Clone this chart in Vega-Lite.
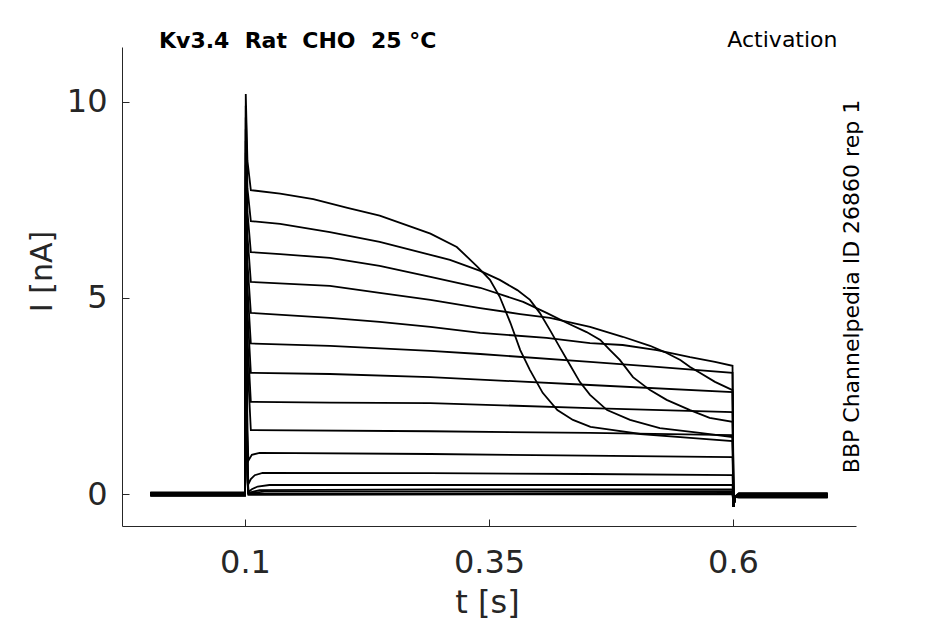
{
"$schema": "https://vega.github.io/schema/vega-lite/v6.json",
"width": 734,
"height": 479,
"autosize": {"type": "none"},
"padding": {"left": 122, "top": 47, "right": 89, "bottom": 98},
"background": "white",
"config": {"view": {"stroke": null}, "font": "DejaVu Sans"},
"title": {"text": "Kv3.4\u00a0\u00a0Rat\u00a0\u00a0CHO\u00a0\u00a025 °C", "anchor": "start", "frame": "group", "dx": 37, "dy": 42, "offset": 0, "baseline": "alphabetic", "fontSize": 22, "fontWeight": "bold", "font": "DejaVu Sans", "color": "#000000"},
"data": {"values": [
{"tr":1,"t":0.003,"I":0.02},{"tr":1,"t":0.1,"I":0.02},{"tr":1,"t":0.1008,"I":10.2},{"tr":1,"t":0.1025,"I":8.5},{"tr":1,"t":0.106,"I":7.75},{"tr":1,"t":0.136,"I":7.66},{"tr":1,"t":0.17,"I":7.52},{"tr":1,"t":0.205,"I":7.3},{"tr":1,"t":0.238,"I":7.1},{"tr":1,"t":0.272,"I":6.8},{"tr":1,"t":0.29,"I":6.64},{"tr":1,"t":0.317,"I":6.3},{"tr":1,"t":0.338,"I":5.8},{"tr":1,"t":0.351,"I":5.46},{"tr":1,"t":0.361,"I":5.03},{"tr":1,"t":0.372,"I":4.36},{"tr":1,"t":0.382,"I":3.67},{"tr":1,"t":0.392,"I":3.16},{"tr":1,"t":0.405,"I":2.58},{"tr":1,"t":0.42,"I":2.14},{"tr":1,"t":0.436,"I":1.89},{"tr":1,"t":0.454,"I":1.71},{"tr":1,"t":0.474,"I":1.64},{"tr":1,"t":0.505,"I":1.53},{"tr":1,"t":0.556,"I":1.43},{"tr":1,"t":0.5995,"I":1.35},{"tr":1,"t":0.6006,"I":-0.33},{"tr":1,"t":0.602,"I":-0.07},{"tr":1,"t":0.606,"I":-0.02},{"tr":1,"t":0.697,"I":-0.02},
{"tr":2,"t":0.003,"I":0},{"tr":2,"t":0.1,"I":0},{"tr":2,"t":0.1008,"I":9.9},{"tr":2,"t":0.1025,"I":7.8},{"tr":2,"t":0.106,"I":6.96},{"tr":2,"t":0.136,"I":6.89},{"tr":2,"t":0.187,"I":6.68},{"tr":2,"t":0.238,"I":6.43},{"tr":2,"t":0.29,"I":6.1},{"tr":2,"t":0.31,"I":5.97},{"tr":2,"t":0.341,"I":5.69},{"tr":2,"t":0.361,"I":5.46},{"tr":2,"t":0.379,"I":5.2},{"tr":2,"t":0.392,"I":4.95},{"tr":2,"t":0.402,"I":4.62},{"tr":2,"t":0.4125,"I":4.18},{"tr":2,"t":0.423,"I":3.72},{"tr":2,"t":0.433,"I":3.29},{"tr":2,"t":0.443,"I":2.86},{"tr":2,"t":0.4535,"I":2.53},{"tr":2,"t":0.471,"I":2.14},{"tr":2,"t":0.4945,"I":1.89},{"tr":2,"t":0.525,"I":1.68},{"tr":2,"t":0.566,"I":1.56},{"tr":2,"t":0.5995,"I":1.45},{"tr":2,"t":0.6006,"I":-0.33},{"tr":2,"t":0.602,"I":-0.07},{"tr":2,"t":0.606,"I":-0.05},{"tr":2,"t":0.697,"I":-0.05},
{"tr":3,"t":0.003,"I":-0.03},{"tr":3,"t":0.1,"I":-0.03},{"tr":3,"t":0.1008,"I":9.6},{"tr":3,"t":0.1025,"I":7.2},{"tr":3,"t":0.106,"I":6.17},{"tr":3,"t":0.136,"I":6.12},{"tr":3,"t":0.187,"I":6.02},{"tr":3,"t":0.238,"I":5.82},{"tr":3,"t":0.29,"I":5.54},{"tr":3,"t":0.341,"I":5.26},{"tr":3,"t":0.385,"I":4.9},{"tr":3,"t":0.409,"I":4.62},{"tr":3,"t":0.43,"I":4.36},{"tr":3,"t":0.45,"I":4.13},{"tr":3,"t":0.464,"I":3.93},{"tr":3,"t":0.474,"I":3.67},{"tr":3,"t":0.484,"I":3.42},{"tr":3,"t":0.4975,"I":2.98},{"tr":3,"t":0.515,"I":2.65},{"tr":3,"t":0.532,"I":2.4},{"tr":3,"t":0.556,"I":2.14},{"tr":3,"t":0.576,"I":1.94},{"tr":3,"t":0.5995,"I":1.84},{"tr":3,"t":0.6006,"I":-0.33},{"tr":3,"t":0.602,"I":-0.07},{"tr":3,"t":0.606,"I":0.01},{"tr":3,"t":0.697,"I":0.01},
{"tr":4,"t":0.003,"I":0.04},{"tr":4,"t":0.1,"I":0.04},{"tr":4,"t":0.1008,"I":9.3},{"tr":4,"t":0.1025,"I":6.6},{"tr":4,"t":0.106,"I":5.41},{"tr":4,"t":0.187,"I":5.31},{"tr":4,"t":0.238,"I":5.13},{"tr":4,"t":0.29,"I":4.95},{"tr":4,"t":0.341,"I":4.74},{"tr":4,"t":0.382,"I":4.59},{"tr":4,"t":0.4125,"I":4.49},{"tr":4,"t":0.4535,"I":4.26},{"tr":4,"t":0.487,"I":4.01},{"tr":4,"t":0.515,"I":3.78},{"tr":4,"t":0.53,"I":3.62},{"tr":4,"t":0.546,"I":3.42},{"tr":4,"t":0.556,"I":3.24},{"tr":4,"t":0.566,"I":3.09},{"tr":4,"t":0.5815,"I":2.86},{"tr":4,"t":0.5995,"I":2.65},{"tr":4,"t":0.6006,"I":-0.33},{"tr":4,"t":0.602,"I":-0.07},{"tr":4,"t":0.606,"I":-0.08},{"tr":4,"t":0.697,"I":-0.08},
{"tr":5,"t":0.003,"I":-0.01},{"tr":5,"t":0.1,"I":-0.01},{"tr":5,"t":0.1008,"I":9.0},{"tr":5,"t":0.1025,"I":5.9},{"tr":5,"t":0.106,"I":4.62},{"tr":5,"t":0.187,"I":4.49},{"tr":5,"t":0.238,"I":4.39},{"tr":5,"t":0.29,"I":4.26},{"tr":5,"t":0.341,"I":4.11},{"tr":5,"t":0.409,"I":3.98},{"tr":5,"t":0.4535,"I":3.85},{"tr":5,"t":0.487,"I":3.8},{"tr":5,"t":0.522,"I":3.67},{"tr":5,"t":0.556,"I":3.49},{"tr":5,"t":0.5815,"I":3.37},{"tr":5,"t":0.5995,"I":3.27},{"tr":5,"t":0.6006,"I":-0.33},{"tr":5,"t":0.602,"I":-0.07},{"tr":5,"t":0.606,"I":-0.04},{"tr":5,"t":0.697,"I":-0.04},
{"tr":6,"t":0.003,"I":0.01},{"tr":6,"t":0.1,"I":0.01},{"tr":6,"t":0.1008,"I":8.7},{"tr":6,"t":0.1025,"I":5.3},{"tr":6,"t":0.106,"I":3.84},{"tr":6,"t":0.187,"I":3.78},{"tr":6,"t":0.29,"I":3.65},{"tr":6,"t":0.341,"I":3.57},{"tr":6,"t":0.4535,"I":3.37},{"tr":6,"t":0.522,"I":3.24},{"tr":6,"t":0.5995,"I":3.09},{"tr":6,"t":0.6006,"I":-0.33},{"tr":6,"t":0.602,"I":-0.07},{"tr":6,"t":0.606,"I":-0.06},{"tr":6,"t":0.697,"I":-0.06},
{"tr":7,"t":0.003,"I":-0.05},{"tr":7,"t":0.1,"I":-0.05},{"tr":7,"t":0.1008,"I":8.4},{"tr":7,"t":0.1025,"I":4.7},{"tr":7,"t":0.106,"I":3.09},{"tr":7,"t":0.187,"I":3.06},{"tr":7,"t":0.29,"I":2.98},{"tr":7,"t":0.4535,"I":2.78},{"tr":7,"t":0.5995,"I":2.6},{"tr":7,"t":0.6006,"I":-0.33},{"tr":7,"t":0.602,"I":-0.07},{"tr":7,"t":0.606,"I":0.02},{"tr":7,"t":0.697,"I":0.02},
{"tr":8,"t":0.003,"I":0.03},{"tr":8,"t":0.1,"I":0.03},{"tr":8,"t":0.1008,"I":8.1},{"tr":8,"t":0.1025,"I":4.0},{"tr":8,"t":0.106,"I":2.35},{"tr":8,"t":0.187,"I":2.33},{"tr":8,"t":0.29,"I":2.32},{"tr":8,"t":0.4535,"I":2.19},{"tr":8,"t":0.5995,"I":2.09},{"tr":8,"t":0.6006,"I":-0.33},{"tr":8,"t":0.602,"I":-0.07},{"tr":8,"t":0.606,"I":-0.09},{"tr":8,"t":0.697,"I":-0.09},
{"tr":9,"t":0.003,"I":-0.02},{"tr":9,"t":0.1,"I":-0.02},{"tr":9,"t":0.1008,"I":7.8},{"tr":9,"t":0.1025,"I":3.4},{"tr":9,"t":0.106,"I":1.63},{"tr":9,"t":0.29,"I":1.6},{"tr":9,"t":0.4535,"I":1.56},{"tr":9,"t":0.5995,"I":1.5},{"tr":9,"t":0.6006,"I":-0.33},{"tr":9,"t":0.602,"I":-0.07},{"tr":9,"t":0.606,"I":-0.03},{"tr":9,"t":0.697,"I":-0.03},
{"tr":10,"t":0.003,"I":0.02},{"tr":10,"t":0.1,"I":0.02},{"tr":10,"t":0.1008,"I":7.5},{"tr":10,"t":0.1025,"I":1.6},{"tr":10,"t":0.1035,"I":0.85},{"tr":10,"t":0.107,"I":1.0},{"tr":10,"t":0.115,"I":1.05},{"tr":10,"t":0.29,"I":1.02},{"tr":10,"t":0.45,"I":0.98},{"tr":10,"t":0.5995,"I":0.94},{"tr":10,"t":0.6006,"I":-0.33},{"tr":10,"t":0.602,"I":-0.07},{"tr":10,"t":0.606,"I":-0.07},{"tr":10,"t":0.697,"I":-0.07},
{"tr":11,"t":0.003,"I":-0.04},{"tr":11,"t":0.1,"I":-0.04},{"tr":11,"t":0.1008,"I":7.2},{"tr":11,"t":0.1025,"I":1.0},{"tr":11,"t":0.1035,"I":0.25},{"tr":11,"t":0.106,"I":0.38},{"tr":11,"t":0.11,"I":0.48},{"tr":11,"t":0.118,"I":0.54},{"tr":11,"t":0.29,"I":0.53},{"tr":11,"t":0.45,"I":0.51},{"tr":11,"t":0.5995,"I":0.48},{"tr":11,"t":0.6006,"I":-0.33},{"tr":11,"t":0.602,"I":-0.07},{"tr":11,"t":0.606,"I":-0.01},{"tr":11,"t":0.697,"I":-0.01},
{"tr":12,"t":0.003,"I":0},{"tr":12,"t":0.1,"I":0},{"tr":12,"t":0.1008,"I":6.9},{"tr":12,"t":0.1025,"I":0.8},{"tr":12,"t":0.1035,"I":0.05},{"tr":12,"t":0.107,"I":0.12},{"tr":12,"t":0.113,"I":0.19},{"tr":12,"t":0.125,"I":0.23},{"tr":12,"t":0.45,"I":0.23},{"tr":12,"t":0.5995,"I":0.23},{"tr":12,"t":0.6006,"I":-0.33},{"tr":12,"t":0.602,"I":-0.07},{"tr":12,"t":0.606,"I":-0.05},{"tr":12,"t":0.697,"I":-0.05},
{"tr":13,"t":0.003,"I":0.03},{"tr":13,"t":0.1,"I":0.03},{"tr":13,"t":0.1008,"I":6.6},{"tr":13,"t":0.1025,"I":0.6},{"tr":13,"t":0.1035,"I":0.03},{"tr":13,"t":0.115,"I":0.1},{"tr":13,"t":0.3,"I":0.12},{"tr":13,"t":0.5995,"I":0.12},{"tr":13,"t":0.6006,"I":-0.33},{"tr":13,"t":0.602,"I":-0.07},{"tr":13,"t":0.606,"I":0},{"tr":13,"t":0.697,"I":0},
{"tr":14,"t":0.003,"I":-0.02},{"tr":14,"t":0.1,"I":-0.02},{"tr":14,"t":0.1008,"I":6.3},{"tr":14,"t":0.1025,"I":0.5},{"tr":14,"t":0.1035,"I":0.02},{"tr":14,"t":0.12,"I":0.06},{"tr":14,"t":0.5995,"I":0.07},{"tr":14,"t":0.6006,"I":-0.33},{"tr":14,"t":0.602,"I":-0.07},{"tr":14,"t":0.606,"I":-0.08},{"tr":14,"t":0.697,"I":-0.08},
{"tr":15,"t":0.003,"I":0.01},{"tr":15,"t":0.1,"I":0.01},{"tr":15,"t":0.1008,"I":6.0},{"tr":15,"t":0.1025,"I":0.4},{"tr":15,"t":0.1035,"I":0},{"tr":15,"t":0.5995,"I":0.03},{"tr":15,"t":0.6006,"I":-0.33},{"tr":15,"t":0.602,"I":-0.07},{"tr":15,"t":0.606,"I":-0.03},{"tr":15,"t":0.697,"I":-0.03},
{"tr":16,"t":0.003,"I":-0.03},{"tr":16,"t":0.1,"I":-0.03},{"tr":16,"t":0.1008,"I":5.7},{"tr":16,"t":0.1025,"I":0.3},{"tr":16,"t":0.1035,"I":-0.02},{"tr":16,"t":0.5995,"I":0},{"tr":16,"t":0.6006,"I":-0.33},{"tr":16,"t":0.602,"I":-0.07},{"tr":16,"t":0.606,"I":-0.06},{"tr":16,"t":0.697,"I":-0.06}
]},
"layer": [
{
"mark": {"type": "line", "color": "#000000", "strokeWidth": 1.8, "clip": true},
"encoding": {
"x": {"field": "t", "type": "quantitative", "scale": {"domain": [-0.026, 0.726], "nice": false, "zero": false},
"axis": {"orient": "bottom", "values": [0.1, 0.35, 0.6], "format": ".2~f", "grid": false, "domainColor": "#262626", "domainWidth": 1, "tickColor": "#262626", "tickWidth": 1, "tickSize": -7, "labelPadding": 53, "labelBaseline": "alphabetic", "labelFontSize": 32, "labelFont": "DejaVu Sans", "labelColor": "#262626", "labelOverlap": false, "labelFlush": false, "labelBound": false, "title": "t [s]", "titleFont": "DejaVu Sans", "titleFontSize": 32, "titleFontWeight": "normal", "titleColor": "#262626", "titleX": 365, "titleY": 86, "titleAlign": "center", "titleBaseline": "alphabetic"}},
"y": {"field": "I", "type": "quantitative", "scale": {"domain": [-0.816, 11.4], "nice": false, "zero": false},
"axis": {"orient": "left", "values": [0, 5, 10], "format": "d", "grid": false, "domainColor": "#262626", "domainWidth": 1, "tickColor": "#262626", "tickWidth": 1, "tickSize": -7, "labelPadding": 22, "labelFontSize": 32, "labelFont": "DejaVu Sans", "labelColor": "#262626", "labelOverlap": false, "labelFlush": false, "labelBound": false, "title": "I [nA]", "titleFont": "DejaVu Sans", "titleFontSize": 30, "titleFontWeight": "normal", "titleColor": "#262626", "titleAngle": 270, "titleX": -71, "titleY": 224, "titleAlign": "center", "titleBaseline": "alphabetic"}},
"detail": {"field": "tr", "type": "nominal"}
}
},
{
"mark": {"type": "line", "color": "#000000", "opacity": 0},
"encoding": {
"x": {"field": "t", "type": "quantitative",
"axis": {"orient": "top", "domain": false, "ticks": false, "labels": false, "grid": false, "title": "Activation", "titleFont": "DejaVu Sans", "titleFontSize": 22, "titleFontWeight": "normal", "titleColor": "#000000", "titleX": 715, "titleY": -1, "titleAlign": "right", "titleBaseline": "alphabetic", "titleAngle": 0}},
"y": {"field": "I", "type": "quantitative",
"axis": {"orient": "right", "domain": false, "ticks": false, "labels": false, "grid": false, "title": "BBP Channelpedia ID 26860 rep 1", "titleFont": "DejaVu Sans", "titleFontSize": 22, "titleFontWeight": "normal", "titleColor": "#000000", "titleAngle": 270, "titleX": 2, "titleY": 239, "titleAlign": "center", "titleBaseline": "alphabetic"}},
"detail": {"field": "tr", "type": "nominal"}
}
}
],
"resolve": {"axis": {"x": "independent", "y": "independent"}}
}
